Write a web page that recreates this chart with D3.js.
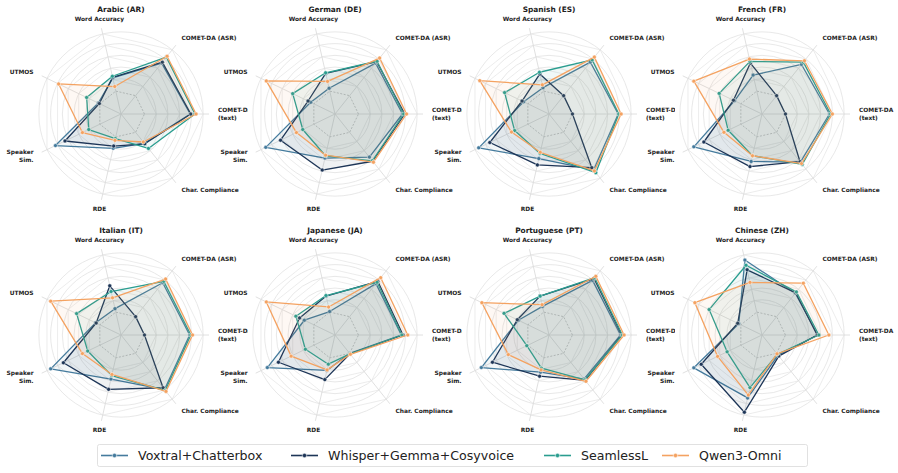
<!DOCTYPE html>
<html>
<head>
<meta charset="utf-8">
<script src="https://cdn.jsdelivr.net/npm/d3@7"></script>
<style>
  body { margin: 0; background: #fff; }
  svg { display: block; font-family: "DejaVu Sans", sans-serif; }
</style>
</head>
<body>
<div id="chart"></div>
<script>
// axes, counter-clockwise starting at 3 o'clock
const axes = ["COMET-DA\n(text)", "COMET-DA (ASR)", "Word Accuracy", "UTMOS", "Speaker\nSim.", "RDE", "Char. Compliance"];
const languages = ["Arabic (AR)", "German (DE)", "Spanish (ES)", "French (FR)",
                   "Italian (IT)", "Japanese (JA)", "Portuguese (PT)", "Chinese (ZH)"];
const systems = ["Voxtral+Chatterbox", "Whisper+Gemma+Cosyvoice", "SeamlessL", "Qwen3-Omni"];
const colors = ["#457b9d", "#1d3557", "#2a9d8f", "#f4a261"];

// normalised scores per language, order of axes above
const voxtral = [
  [0.78, 0.71, 0.23, 0.03, 0.84, 0.20, 0.24],
  [0.75, 0.71, 0.05, 0.06, 0.91, 0.37, 0.54],
  [0.78, 0.73, 0.06, 0.08, 0.93, 0.38, 0.82],
  [0.75, 0.68, 0.28, 0.12, 0.89, 0.43, 0.65],
  [0.77, 0.74, 0.06, 0.08, 0.93, 0.37, 0.79],
  [0.73, 0.72, 0.01, 0.18, 0.88, 0.22, 0.00],
  [0.82, 0.79, 0.10, 0.18, 0.88, 0.25, 0.56],
  [0.55, 0.51, 0.91, 0.04, 0.89, 0.70, 0.04]
];
const whisper = [
  [0.79, 0.73, 0.24, 0.01, 0.66, 0.16, 0.25],
  [0.79, 0.74, 0.31, 0.11, 0.63, 0.58, 0.63],
  [0.00, 0.00, 0.30, 0.11, 0.72, 0.49, 0.77],
  [0.00, 0.00, 0.49, 0.14, 0.70, 0.52, 0.64],
  [0.00, 0.00, 0.46, 0.07, 0.69, 0.55, 0.75],
  [0.76, 0.77, 0.28, 0.27, 0.67, 0.38, 0.01],
  [0.84, 0.83, 0.28, 0.20, 0.67, 0.32, 0.59],
  [0.54, 0.52, 0.74, 0.06, 0.75, 0.95, 0.06]
];
const seamless = [
  [0.86, 0.84, 0.26, 0.25, 0.21, 0.03, 0.35],
  [0.77, 0.75, 0.32, 0.40, 0.21, 0.33, 0.62],
  [0.79, 0.78, 0.33, 0.44, 0.25, 0.29, 0.88],
  [0.77, 0.73, 0.52, 0.41, 0.24, 0.33, 0.70],
  [0.79, 0.77, 0.36, 0.44, 0.23, 0.31, 0.81],
  [0.74, 0.75, 0.29, 0.34, 0.16, 0.11, 0.01],
  [0.85, 0.85, 0.28, 0.45, 0.02, 0.18, 0.58],
  [0.57, 0.54, 0.82, 0.60, 0.26, 0.52, 0.02]
];
const qwen = [
  [0.88, 0.86, 0.08, 0.78, 0.33, 0.06, 0.21],
  [0.82, 0.82, 0.17, 0.90, 0.33, 0.32, 0.65],
  [0.83, 0.84, 0.11, 0.91, 0.31, 0.27, 0.84],
  [0.80, 0.76, 0.56, 0.89, 0.32, 0.33, 0.68],
  [0.82, 0.82, 0.25, 0.93, 0.33, 0.29, 0.83],
  [0.84, 0.85, 0.09, 0.90, 0.43, 0.21, 0.02],
  [0.88, 0.88, 0.13, 0.87, 0.37, 0.21, 0.61],
  [0.74, 0.73, 0.52, 0.87, 0.44, 0.65, 0.01]
];
const series = [voxtral, whisper, seamless, qwen];
const gridLevels = [0.2, 0.4, 0.6, 0.8, 1.0];

const width = 898, height = 473;
const colX = [121, 335, 549, 762];
const rowY = [114, 335];

const svg = d3.select("#chart").append("svg")
  .attr("width", width)
  .attr("height", height);

const rScale = d3.scaleLinear().domain([-0.4, 1.1]).range([0, 88]);
const aScale = d3.scaleLinear().domain([0, axes.length]).range([0, 2 * Math.PI]);

// lineRadial measures from 12 o'clock clockwise
const radial = d3.lineRadial()
  .angle((d, i) => Math.PI / 2 - aScale(i))
  .radius(d => rScale(d))
  .curve(d3.curveLinearClosed);

const px = (v, i) => rScale(v) * Math.cos(aScale(i));
const py = (v, i) => -rScale(v) * Math.sin(aScale(i));

languages.forEach((lang, k) => {
  const cx = colX[k % 4], cy = rowY[Math.floor(k / 4)];

  // axes patch hides overflow from the neighbour on the left
  svg.append("rect")
    .attr("x", cx - 87).attr("y", cy - 92)
    .attr("width", 174).attr("height", 184)
    .attr("fill", "#fff");

  const g = svg.append("g").attr("transform", `translate(${cx},${cy})`);

  // grid circles
  g.selectAll(".ring")
    .data(gridLevels)
    .join("circle")
    .attr("r", d => rScale(d))
    .attr("fill", "none")
    .attr("stroke", "#e2e2e2")
    .attr("stroke-width", 0.8);

  // grid polygons
  gridLevels.forEach(l => {
    g.append("path")
      .attr("d", radial(axes.map(() => l)))
      .attr("fill", "none")
      .attr("stroke", "#e4e4e4")
      .attr("stroke-width", 0.7);
  });

  // spokes
  g.selectAll(".spoke")
    .data(axes)
    .join("line")
    .attr("x1", 0).attr("y1", 0)
    .attr("x2", (d, i) => px(1.1, i))
    .attr("y2", (d, i) => py(1.1, i))
    .attr("stroke", "#dcdcdc")
    .attr("stroke-width", 0.9);

  // baseline
  g.append("path")
    .attr("d", radial(axes.map(() => 0)))
    .attr("fill", "none")
    .attr("stroke", "#c4c4c4")
    .attr("stroke-width", 0.9)
    .attr("stroke-dasharray", "2,1.5");

  // series
  series.forEach((s, j) => {
    const vals = s[k];
    g.append("path")
      .attr("d", radial(vals))
      .attr("fill", colors[j])
      .attr("fill-opacity", 0.07)
      .attr("stroke", colors[j])
      .attr("stroke-width", 1.3)
      .attr("stroke-linejoin", "round");
    g.selectAll(".pt" + j)
      .data(vals)
      .join("circle")
      .attr("cx", (d, i) => px(d, i))
      .attr("cy", (d, i) => py(d, i))
      .attr("r", 2)
      .attr("fill", colors[j])
      .attr("stroke", "#fff")
      .attr("stroke-width", 0.5);
  });

  // axis labels
  axes.forEach((name, i) => {
    const a = aScale(i);
    const c = Math.cos(a);
    const anchor = Math.abs(c) < 0.3 ? "middle" : (c > 0 ? "start" : "end");
    const lines = name.split("\n");
    const t = g.append("text")
      .attr("x", 97 * c)
      .attr("y", -97 * Math.sin(a) - (lines.length - 1) * 3.6 + 2)
      .attr("text-anchor", anchor)
      .style("font-size", "5.9px")
      .style("font-weight", "bold")
      .attr("fill", "#222");
    lines.forEach((ln, m) => {
      t.append("tspan")
        .attr("x", 97 * c)
        .attr("dy", m === 0 ? 0 : 7.4)
        .text(ln);
    });
  });

  // title
  g.append("text")
    .attr("x", 0)
    .attr("y", -102)
    .attr("text-anchor", "middle")
    .style("font-size", "7.4px")
    .style("font-weight", "bold")
    .attr("fill", "#222")
    .text(lang);
});

// legend
const legend = svg.append("g");
legend.append("rect")
  .attr("x", 97.5).attr("y", 444.5)
  .attr("width", 710).attr("height", 22)
  .attr("rx", 2)
  .attr("fill", "#fff")
  .attr("stroke", "#d9d9d9")
  .attr("stroke-width", 0.8);

const legendX = [101, 291, 544, 662];
systems.forEach((name, j) => {
  const lx = legendX[j], ly = 455.5;
  legend.append("line")
    .attr("x1", lx).attr("x2", lx + 27)
    .attr("y1", ly).attr("y2", ly)
    .attr("stroke", colors[j])
    .attr("stroke-width", 1.6);
  legend.append("circle")
    .attr("cx", lx + 13.5).attr("cy", ly)
    .attr("r", 2.2)
    .attr("fill", colors[j])
    .attr("stroke", "#fff")
    .attr("stroke-width", 0.6);
  legend.append("text")
    .attr("x", lx + 37)
    .attr("y", ly + 4.4)
    .style("font-size", "12.6px")
    .attr("fill", "#222")
    .text(name);
});
</script>
</body>
</html>
